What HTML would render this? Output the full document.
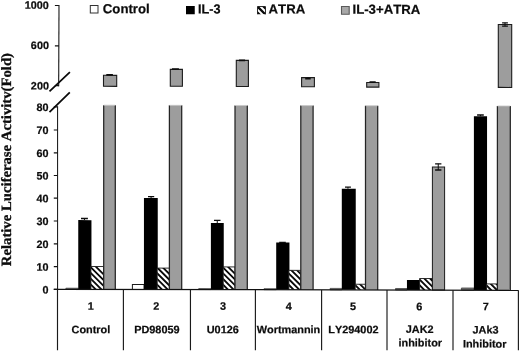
<!DOCTYPE html>
<html><head><meta charset="utf-8"><title>chart</title>
<style>
html,body{margin:0;padding:0;background:#fff;}
body{width:520px;height:352px;overflow:hidden;}
svg{display:block;will-change:transform;filter:grayscale(1);}
text{font-kerning:none;stroke:#0c0c0c;stroke-width:0.22px;}
.t{font-family:"Liberation Sans",sans-serif;font-weight:bold;font-size:10.8px;fill:#0c0c0c;}
.x{font-family:"Liberation Sans",sans-serif;font-weight:bold;font-size:10.9px;fill:#0c0c0c;}
.l{font-family:"Liberation Sans",sans-serif;font-weight:bold;font-size:13.2px;fill:#0c0c0c;}
.y{font-family:"Liberation Serif",serif;font-weight:bold;font-size:14.2px;fill:#0c0c0c;stroke:#0c0c0c;stroke-width:0.3px;}
</style></head><body>
<svg width="520" height="352" viewBox="0 0 520 352">
<rect width="520" height="352" fill="#fff"/>
<g transform="matrix(1 0.002 0 1 0 -0.1150)">
<rect x="65.90" y="288.18" width="12.45" height="1.07" fill="#777" stroke="#444" stroke-width="0.8" />
<rect x="78.25" y="220.06" width="13.20" height="69.19" fill="#000"/>
<path d="M81.00 218.45H87.90" stroke="#0d0d0d" stroke-width="1.3" fill="none"/>
<path d="M84.45 218.45V220.06" stroke="#0d0d0d" stroke-width="1.0" fill="none"/>
<clipPath id="c1"><rect x="90.90" y="266.43" width="12.80" height="22.82"/></clipPath>
<rect x="90.90" y="266.43" width="12.80" height="22.82" fill="#fff"/>
<path d="M89.90 335.07L104.70 349.87M89.90 329.34L104.70 344.14M89.90 323.62L104.70 338.42M89.90 317.89L104.70 332.69M89.90 312.16L104.70 326.96M89.90 306.43L104.70 321.23M89.90 300.71L104.70 315.51M89.90 294.98L104.70 309.78M89.90 289.25L104.70 304.05M89.90 283.52L104.70 298.32M89.90 277.79L104.70 292.59M89.90 272.07L104.70 286.87M89.90 266.34L104.70 281.14M89.90 260.61L104.70 275.41" stroke="#0a0a0a" stroke-width="1.85" fill="none" clip-path="url(#c1)"/>
<path d="M90.90 289.25V266.43H103.70V289.25" fill="none" stroke="#1a1a1a" stroke-width="0.9"/>
<rect x="103.70" y="105.10" width="11.60" height="184.15" fill="#9d9d9d"/>
<path d="M103.70 105.10V289.25M115.30 105.10V289.25" stroke="#242424" stroke-width="1.25" fill="none"/>
<path d="M103.70 105.10H115.30" stroke="#c8c8c8" stroke-width="0.8" fill="none"/>
<rect x="103.50" y="75.21" width="13.20" height="11.00" fill="#9d9d9d" stroke="#1c1c1c" stroke-width="1.1" />
<path d="M106.30 74.75H112.90" stroke="#0d0d0d" stroke-width="1.6" fill="none"/>
<path d="M109.60 74.75V75.20" stroke="#0d0d0d" stroke-width="1.0" fill="none"/>
<rect x="132.40" y="284.45" width="11.65" height="4.80" fill="#fff" stroke="#1c1c1c" stroke-width="1.0" />
<rect x="143.95" y="197.73" width="13.80" height="91.52" fill="#000"/>
<path d="M148.00 196.42H154.20" stroke="#0d0d0d" stroke-width="1.3" fill="none"/>
<path d="M151.10 196.42V197.73" stroke="#0d0d0d" stroke-width="1.0" fill="none"/>
<clipPath id="c2"><rect x="157.20" y="267.90" width="12.20" height="21.35"/></clipPath>
<rect x="157.20" y="267.90" width="12.20" height="21.35" fill="#fff"/>
<path d="M156.20 329.34L170.40 343.54M156.20 323.62L170.40 337.82M156.20 317.89L170.40 332.09M156.20 312.16L170.40 326.36M156.20 306.43L170.40 320.63M156.20 300.71L170.40 314.91M156.20 294.98L170.40 309.18M156.20 289.25L170.40 303.45M156.20 283.52L170.40 297.72M156.20 277.79L170.40 291.99M156.20 272.07L170.40 286.27M156.20 266.34L170.40 280.54M156.20 260.61L170.40 274.81" stroke="#0a0a0a" stroke-width="1.85" fill="none" clip-path="url(#c2)"/>
<path d="M157.20 289.25V267.90H169.40V289.25" fill="none" stroke="#1a1a1a" stroke-width="0.9"/>
<rect x="169.40" y="105.10" width="12.30" height="184.15" fill="#9d9d9d"/>
<path d="M169.40 105.10V289.25M181.70 105.10V289.25" stroke="#242424" stroke-width="1.25" fill="none"/>
<path d="M169.40 105.10H181.70" stroke="#c8c8c8" stroke-width="0.8" fill="none"/>
<rect x="170.30" y="69.17" width="12.10" height="16.90" fill="#9d9d9d" stroke="#1c1c1c" stroke-width="1.1" />
<path d="M172.00 68.82H178.90" stroke="#0d0d0d" stroke-width="1.6" fill="none"/>
<path d="M175.45 68.82V69.17" stroke="#0d0d0d" stroke-width="1.0" fill="none"/>
<rect x="198.70" y="288.32" width="12.30" height="0.93" fill="#777" stroke="#444" stroke-width="0.8" />
<rect x="210.90" y="222.69" width="12.85" height="66.56" fill="#000"/>
<path d="M214.00 220.09H220.50" stroke="#0d0d0d" stroke-width="1.3" fill="none"/>
<path d="M217.25 220.09V222.69" stroke="#0d0d0d" stroke-width="1.0" fill="none"/>
<clipPath id="c3"><rect x="223.20" y="266.57" width="11.80" height="22.68"/></clipPath>
<rect x="223.20" y="266.57" width="11.80" height="22.68" fill="#fff"/>
<path d="M222.20 335.07L236.00 348.87M222.20 329.34L236.00 343.14M222.20 323.62L236.00 337.42M222.20 317.89L236.00 331.69M222.20 312.16L236.00 325.96M222.20 306.43L236.00 320.23M222.20 300.71L236.00 314.51M222.20 294.98L236.00 308.78M222.20 289.25L236.00 303.05M222.20 283.52L236.00 297.32M222.20 277.79L236.00 291.59M222.20 272.07L236.00 285.87M222.20 266.34L236.00 280.14M222.20 260.61L236.00 274.41" stroke="#0a0a0a" stroke-width="1.85" fill="none" clip-path="url(#c3)"/>
<path d="M223.20 289.25V266.57H235.00V289.25" fill="none" stroke="#1a1a1a" stroke-width="0.9"/>
<rect x="235.00" y="105.10" width="12.30" height="184.15" fill="#9d9d9d"/>
<path d="M235.00 105.10V289.25M247.30 105.10V289.25" stroke="#242424" stroke-width="1.25" fill="none"/>
<path d="M235.00 105.10H247.30" stroke="#c8c8c8" stroke-width="0.8" fill="none"/>
<rect x="236.30" y="60.04" width="12.10" height="26.10" fill="#9d9d9d" stroke="#1c1c1c" stroke-width="1.1" />
<path d="M239.00 59.99H245.10" stroke="#0d0d0d" stroke-width="1.6" fill="none"/>
<path d="M242.05 59.99V60.04" stroke="#0d0d0d" stroke-width="1.0" fill="none"/>
<rect x="264.00" y="288.29" width="12.30" height="0.96" fill="#777" stroke="#444" stroke-width="0.8" />
<rect x="276.20" y="242.16" width="13.25" height="47.09" fill="#000"/>
<path d="M279.20 241.96H285.80" stroke="#0d0d0d" stroke-width="1.3" fill="none"/>
<path d="M282.50 241.96V242.16" stroke="#0d0d0d" stroke-width="1.0" fill="none"/>
<clipPath id="c4"><rect x="288.90" y="269.89" width="11.90" height="19.36"/></clipPath>
<rect x="288.90" y="269.89" width="11.90" height="19.36" fill="#fff"/>
<path d="M287.90 329.34L301.80 343.24M287.90 323.62L301.80 337.52M287.90 317.89L301.80 331.79M287.90 312.16L301.80 326.06M287.90 306.43L301.80 320.33M287.90 300.71L301.80 314.61M287.90 294.98L301.80 308.88M287.90 289.25L301.80 303.15M287.90 283.52L301.80 297.42M287.90 277.79L301.80 291.69M287.90 272.07L301.80 285.97M287.90 266.34L301.80 280.24M287.90 260.61L301.80 274.51" stroke="#0a0a0a" stroke-width="1.85" fill="none" clip-path="url(#c4)"/>
<path d="M288.90 289.25V269.89H300.80V289.25" fill="none" stroke="#1a1a1a" stroke-width="0.9"/>
<rect x="300.80" y="105.10" width="12.30" height="184.15" fill="#9d9d9d"/>
<path d="M300.80 105.10V289.25M313.10 105.10V289.25" stroke="#242424" stroke-width="1.25" fill="none"/>
<path d="M300.80 105.10H313.10" stroke="#c8c8c8" stroke-width="0.8" fill="none"/>
<rect x="301.60" y="77.11" width="12.80" height="9.20" fill="#9d9d9d" stroke="#1c1c1c" stroke-width="1.1" />
<path d="M305.20 78.15H310.70" stroke="#0d0d0d" stroke-width="1.6" fill="none"/>
<path d="M307.95 78.15V77.10" stroke="#0d0d0d" stroke-width="1.0" fill="none"/>
<rect x="330.10" y="287.85" width="11.80" height="1.40" fill="#777" stroke="#444" stroke-width="0.8" />
<rect x="341.80" y="188.23" width="13.95" height="101.02" fill="#000"/>
<path d="M345.00 186.53H350.90" stroke="#0d0d0d" stroke-width="1.3" fill="none"/>
<path d="M347.95 186.53V188.23" stroke="#0d0d0d" stroke-width="1.0" fill="none"/>
<clipPath id="c5"><rect x="355.20" y="283.65" width="10.30" height="5.60"/></clipPath>
<rect x="355.20" y="283.65" width="10.30" height="5.60" fill="#fff"/>
<path d="M354.20 312.16L366.50 324.46M354.20 306.43L366.50 318.73M354.20 300.71L366.50 313.01M354.20 294.98L366.50 307.28M354.20 289.25L366.50 301.55M354.20 283.52L366.50 295.82M354.20 277.79L366.50 290.09" stroke="#0a0a0a" stroke-width="1.85" fill="none" clip-path="url(#c5)"/>
<path d="M355.20 289.25V283.65H365.50V289.25" fill="none" stroke="#1a1a1a" stroke-width="0.9"/>
<rect x="365.50" y="105.10" width="12.20" height="184.15" fill="#9d9d9d"/>
<path d="M365.50 105.10V289.25M377.70 105.10V289.25" stroke="#242424" stroke-width="1.25" fill="none"/>
<path d="M365.50 105.10H377.70" stroke="#c8c8c8" stroke-width="0.8" fill="none"/>
<rect x="366.70" y="81.88" width="12.20" height="4.60" fill="#9d9d9d" stroke="#1c1c1c" stroke-width="1.1" />
<path d="M369.50 81.33H375.70" stroke="#0d0d0d" stroke-width="1.6" fill="none"/>
<path d="M372.60 81.33V81.88" stroke="#0d0d0d" stroke-width="1.0" fill="none"/>
<rect x="395.50" y="287.82" width="11.55" height="1.43" fill="#777" stroke="#444" stroke-width="0.8" />
<rect x="406.95" y="279.30" width="13.20" height="9.95" fill="#000"/>
<clipPath id="c6"><rect x="419.60" y="277.78" width="12.80" height="11.47"/></clipPath>
<rect x="419.60" y="277.78" width="12.80" height="11.47" fill="#fff"/>
<path d="M418.60 323.62L433.40 338.42M418.60 317.89L433.40 332.69M418.60 312.16L433.40 326.96M418.60 306.43L433.40 321.23M418.60 300.71L433.40 315.51M418.60 294.98L433.40 309.78M418.60 289.25L433.40 304.05M418.60 283.52L433.40 298.32M418.60 277.79L433.40 292.59M418.60 272.07L433.40 286.87M418.60 266.34L433.40 281.14" stroke="#0a0a0a" stroke-width="1.85" fill="none" clip-path="url(#c6)"/>
<path d="M419.60 289.25V277.78H432.40V289.25" fill="none" stroke="#1a1a1a" stroke-width="0.9"/>
<rect x="432.40" y="166.15" width="12.20" height="123.10" fill="#9d9d9d" stroke="#1c1c1c" stroke-width="1.0" />
<path d="M435.10 163.04H441.40M435.10 169.24H441.40" stroke="#0d0d0d" stroke-width="1.3" fill="none"/>
<path d="M438.25 163.04V169.24" stroke="#0d0d0d" stroke-width="1.0" fill="none"/>
<rect x="461.40" y="287.19" width="12.60" height="2.06" fill="#777" stroke="#444" stroke-width="0.8" />
<rect x="473.90" y="115.47" width="13.15" height="173.78" fill="#000"/>
<path d="M477.10 114.16H483.80" stroke="#0d0d0d" stroke-width="1.3" fill="none"/>
<path d="M480.45 114.16V115.47" stroke="#0d0d0d" stroke-width="1.0" fill="none"/>
<clipPath id="c7"><rect x="486.50" y="283.04" width="10.90" height="6.21"/></clipPath>
<rect x="486.50" y="283.04" width="10.90" height="6.21" fill="#fff"/>
<path d="M485.50 312.16L498.40 325.06M485.50 306.43L498.40 319.33M485.50 300.71L498.40 313.61M485.50 294.98L498.40 307.88M485.50 289.25L498.40 302.15M485.50 283.52L498.40 296.42M485.50 277.79L498.40 290.69M485.50 272.07L498.40 284.97" stroke="#0a0a0a" stroke-width="1.85" fill="none" clip-path="url(#c7)"/>
<path d="M486.50 289.25V283.04H497.40V289.25" fill="none" stroke="#1a1a1a" stroke-width="0.9"/>
<rect x="497.40" y="105.10" width="12.90" height="184.15" fill="#9d9d9d"/>
<path d="M497.40 105.10V289.25M510.30 105.10V289.25" stroke="#242424" stroke-width="1.25" fill="none"/>
<path d="M497.40 105.10H510.30" stroke="#c8c8c8" stroke-width="0.8" fill="none"/>
<rect x="498.30" y="23.62" width="13.40" height="62.90" fill="#9d9d9d" stroke="#1c1c1c" stroke-width="1.1" />
<path d="M502.10 21.91H507.90M502.10 25.31H507.90" stroke="#0d0d0d" stroke-width="1.2" fill="none"/>
<path d="M505.00 21.91V25.31" stroke="#0d0d0d" stroke-width="1.0" fill="none"/>
<path d="M59.0 5.0L58.65 86.3" stroke="#2a2a2a" stroke-width="1.2" fill="none"/>
<path d="M57.55 106.3V289.35" stroke="#222" stroke-width="1.1" fill="none"/>
<path d="M53.8 289.35H518.4" stroke="#111" stroke-width="1.25" fill="none"/>
<path d="M53.8 289.35H57.5" stroke="#111" stroke-width="1.2" fill="none"/>
<text x="48.5" y="293.50" text-anchor="end" class="t">0</text>
<path d="M53.8 266.60H57.5" stroke="#111" stroke-width="1.2" fill="none"/>
<text x="48.5" y="270.75" text-anchor="end" class="t">10</text>
<path d="M53.8 243.90H57.5" stroke="#111" stroke-width="1.2" fill="none"/>
<text x="48.5" y="248.05" text-anchor="end" class="t">20</text>
<path d="M53.8 221.00H57.5" stroke="#111" stroke-width="1.2" fill="none"/>
<text x="48.5" y="225.15" text-anchor="end" class="t">30</text>
<path d="M53.8 198.20H57.5" stroke="#111" stroke-width="1.2" fill="none"/>
<text x="48.5" y="202.35" text-anchor="end" class="t">40</text>
<path d="M53.8 175.50H57.5" stroke="#111" stroke-width="1.2" fill="none"/>
<text x="48.5" y="179.65" text-anchor="end" class="t">50</text>
<path d="M53.8 152.80H57.5" stroke="#111" stroke-width="1.2" fill="none"/>
<text x="48.5" y="156.95" text-anchor="end" class="t">60</text>
<path d="M53.8 130.00H57.5" stroke="#111" stroke-width="1.2" fill="none"/>
<text x="48.5" y="134.15" text-anchor="end" class="t">70</text>
<path d="M53.8 106.80H57.5" stroke="#111" stroke-width="1.2" fill="none"/>
<text x="48.5" y="110.95" text-anchor="end" class="t">80</text>
<path d="M54.9 85.60H58.9" stroke="#111" stroke-width="1.2" fill="none"/>
<text x="48.9" y="89.55" text-anchor="end" class="t">200</text>
<path d="M54.9 45.85H58.9" stroke="#111" stroke-width="1.2" fill="none"/>
<text x="48.9" y="48.95" text-anchor="end" class="t">600</text>
<path d="M54.9 5.50H58.9" stroke="#111" stroke-width="1.2" fill="none"/>
<text x="48.9" y="8.90" text-anchor="end" class="t">1000</text>
<path d="M49.5 91.5L69.9 72.1M49.5 112.1L69.8 92.3" stroke="#0a0a0a" stroke-width="1.75" fill="none"/>
<path d="M57.50 289.35V350.20" stroke="#1a1a1a" stroke-width="1.15" fill="none"/>
<path d="M123.40 289.35V350.07" stroke="#1a1a1a" stroke-width="1.15" fill="none"/>
<path d="M190.45 289.35V349.93" stroke="#1a1a1a" stroke-width="1.15" fill="none"/>
<path d="M255.40 289.35V349.80" stroke="#1a1a1a" stroke-width="1.15" fill="none"/>
<path d="M321.60 289.35V349.67" stroke="#1a1a1a" stroke-width="1.15" fill="none"/>
<path d="M387.00 289.35V349.54" stroke="#1a1a1a" stroke-width="1.15" fill="none"/>
<path d="M453.00 289.35V349.41" stroke="#1a1a1a" stroke-width="1.15" fill="none"/>
<path d="M518.40 289.35V349.28" stroke="#1a1a1a" stroke-width="1.15" fill="none"/>
<text x="90.75" y="309.68" text-anchor="middle" class="x">1</text>
<text x="90.95" y="333.18" text-anchor="middle" class="x">Control</text>
<text x="156.25" y="309.55" text-anchor="middle" class="x">2</text>
<text x="156.90" y="333.05" text-anchor="middle" class="x">PD98059</text>
<text x="223.00" y="309.47" text-anchor="middle" class="x">3</text>
<text x="222.80" y="332.92" text-anchor="middle" class="x">U0126</text>
<text x="288.75" y="309.44" text-anchor="middle" class="x">4</text>
<text x="288.50" y="332.84" text-anchor="middle" class="x">Wortmannin</text>
<text x="353.10" y="309.41" text-anchor="middle" class="x">5</text>
<text x="353.40" y="332.71" text-anchor="middle" class="x">LY294002</text>
<text x="419.35" y="309.58" text-anchor="middle" class="x">6</text>
<text x="419.70" y="332.18" text-anchor="middle" class="x">JAK2</text>
<text x="420.30" y="345.77" text-anchor="middle" class="x">inhibitor</text>
<text x="485.80" y="309.44" text-anchor="middle" class="x">7</text>
<text x="485.60" y="332.74" text-anchor="middle" class="x">JAk3</text>
<text x="484.70" y="346.75" text-anchor="middle" class="x">Inhibitor</text>
<rect x="90.30" y="5.50" width="7.70" height="7.50" fill="#fff" stroke="#333" stroke-width="1.0" />
<text x="102.8" y="13.1" class="l">Control</text>
<rect x="186" y="5.74" width="8.75" height="8.2" fill="#000"/>
<text x="198.0" y="13.12" class="l" textLength="22.5" lengthAdjust="spacingAndGlyphs">IL-3</text>
<clipPath id="c8"><rect x="257.50" y="6.10" width="8.00" height="7.80"/></clipPath>
<rect x="257.50" y="6.10" width="8.00" height="7.80" fill="#fff"/>
<path d="M256.50 35.53L266.50 45.53M256.50 29.44L266.50 39.44M256.50 23.36L266.50 33.36M256.50 17.28L266.50 27.28M256.50 11.20L266.50 21.20M256.50 5.12L266.50 15.12M256.50 -0.96L266.50 9.04M256.50 -7.04L266.50 2.96" stroke="#0a0a0a" stroke-width="2.3" fill="none" clip-path="url(#c8)"/>
<path d="M257.50 13.90V6.10H265.50V13.90" fill="none" stroke="#1a1a1a" stroke-width="0.9"/>
<text x="268.6" y="13.08" class="l">ATRA</text>
<rect x="341.50" y="5.93" width="7.70" height="7.70" fill="#a8a8a8" stroke="#5a5a5a" stroke-width="1.1" />
<text x="352.5" y="13.21" class="l">IL-3+ATRA</text>
<text transform="translate(10.9 266.3) rotate(-90)" class="y" textLength="213.2" lengthAdjust="spacingAndGlyphs">Relative Luciferase Activitv(Fold)</text>
</g>
</svg>
</body></html>
